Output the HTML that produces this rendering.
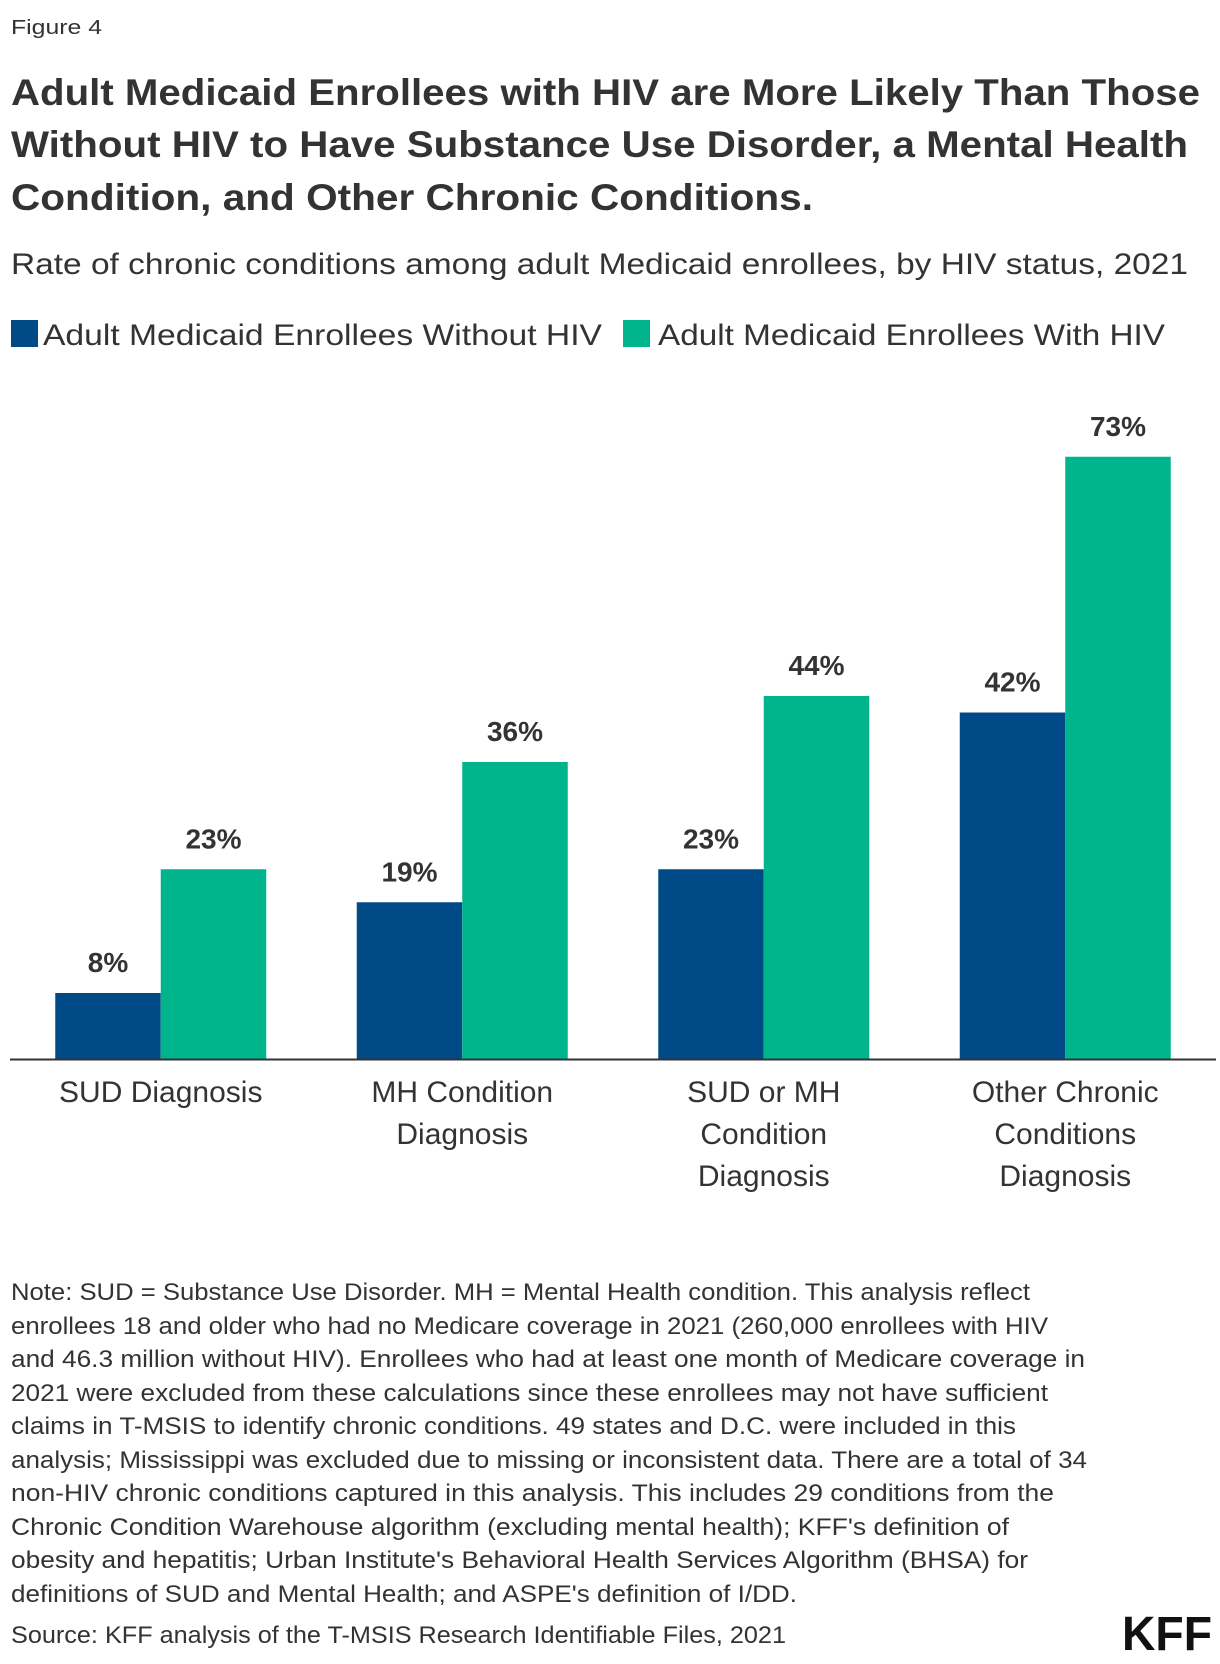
<!DOCTYPE html>
<html><head><meta charset="utf-8"><style>
html,body{margin:0;padding:0;background:#fff;}
svg{display:block;font-family:"Liberation Sans",sans-serif;}
</style></head><body>
<svg id="chart" width="1220" height="1664" viewBox="0 0 1220 1664">
<text x="11" y="34" font-size="20" fill="#333" textLength="91" lengthAdjust="spacingAndGlyphs">Figure 4</text>
<g font-weight="bold" font-size="37" fill="#333">
<text x="11" y="105" textLength="1189" lengthAdjust="spacingAndGlyphs">Adult Medicaid Enrollees with HIV are More Likely Than Those</text>
<text x="11" y="157" textLength="1177" lengthAdjust="spacingAndGlyphs">Without HIV to Have Substance Use Disorder, a Mental Health</text>
<text x="11" y="210" textLength="802" lengthAdjust="spacingAndGlyphs">Condition, and Other Chronic Conditions.</text>
</g>
<text x="11" y="274" font-size="30" fill="#333" textLength="1177" lengthAdjust="spacingAndGlyphs">Rate of chronic conditions among adult Medicaid enrollees, by HIV status, 2021</text>
<g>
<rect x="11" y="320" width="27" height="27" fill="#004A87"/>
<text x="43" y="345" font-size="30" fill="#333" textLength="559" lengthAdjust="spacingAndGlyphs">Adult Medicaid Enrollees Without HIV</text>
<rect x="623" y="320" width="27" height="27" fill="#00B58B"/>
<text x="658" y="345" font-size="30" fill="#333" textLength="507" lengthAdjust="spacingAndGlyphs">Adult Medicaid Enrollees With HIV</text>
</g>
<g id="plot"></g>
<g font-size="24" fill="#333">
<text x="11" y="1300" textLength="1019" lengthAdjust="spacingAndGlyphs">Note: SUD = Substance Use Disorder. MH = Mental Health condition. This analysis reflect</text>
<text x="11" y="1334" textLength="1037" lengthAdjust="spacingAndGlyphs">enrollees 18 and older who had no Medicare coverage in 2021 (260,000 enrollees with HIV</text>
<text x="11" y="1367" textLength="1074" lengthAdjust="spacingAndGlyphs">and 46.3 million without HIV). Enrollees who had at least one month of Medicare coverage in</text>
<text x="11" y="1401" textLength="1037" lengthAdjust="spacingAndGlyphs">2021 were excluded from these calculations since these enrollees may not have sufficient</text>
<text x="11" y="1434" textLength="1005" lengthAdjust="spacingAndGlyphs">claims in T-MSIS to identify chronic conditions. 49 states and D.C. were included in this</text>
<text x="11" y="1468" textLength="1076" lengthAdjust="spacingAndGlyphs">analysis; Mississippi was excluded due to missing or inconsistent data. There are a total of 34</text>
<text x="11" y="1501" textLength="1043" lengthAdjust="spacingAndGlyphs">non-HIV chronic conditions captured in this analysis. This includes 29 conditions from the</text>
<text x="11" y="1535" textLength="998" lengthAdjust="spacingAndGlyphs">Chronic Condition Warehouse algorithm (excluding mental health); KFF's definition of</text>
<text x="11" y="1568" textLength="1017" lengthAdjust="spacingAndGlyphs">obesity and hepatitis; Urban Institute's Behavioral Health Services Algorithm (BHSA) for</text>
<text x="11" y="1602" textLength="786" lengthAdjust="spacingAndGlyphs">definitions of SUD and Mental Health; and ASPE's definition of I/DD.</text>
</g>
<text x="11" y="1643" font-size="24" fill="#333" textLength="775" lengthAdjust="spacingAndGlyphs">Source: KFF analysis of the T-MSIS Research Identifiable Files, 2021</text>
<text x="1122" y="1650" font-size="48" font-weight="bold" fill="#111" textLength="90" lengthAdjust="spacingAndGlyphs">KFF</text>
</svg>
<script>
const categories = [["SUD Diagnosis"],["MH Condition","Diagnosis"],["SUD or MH","Condition","Diagnosis"],["Other Chronic","Conditions","Diagnosis"]];
const withoutHIV = [8, 19, 23, 42];
const withHIV = [23, 36, 44, 73];
const valueLabelsWithout = ["8%","19%","23%","42%"];
const valueLabelsWith = ["23%","36%","44%","73%"];

const NS = "http://www.w3.org/2000/svg";
const plot = document.getElementById("plot");
const left = 10, right = 1216, baseY = 1059, pxPer = 8.25;
const band = (right - left) / categories.length;
const barW = 105.5;
function xCenter(i){ return left + band * (i + 0.5); }
function yScale(v){ return baseY - v * pxPer; }
function mk(tag, attrs){ const e = document.createElementNS(NS, tag); for (const k in attrs) e.setAttribute(k, attrs[k]); plot.appendChild(e); return e; }

const series = [
  {vals: withoutHIV, labels: valueLabelsWithout, color: "#004A87", off: -1, key: "without-hiv"},
  {vals: withHIV, labels: valueLabelsWith, color: "#00B58B", off: 0, key: "with-hiv"}
];
categories.forEach((cat, i) => {
  series.forEach(s => {
    const x = xCenter(i) + s.off * barW;
    const y = yScale(s.vals[i]);
    const r = mk("rect", {x: x, y: y, width: barW, height: baseY - y, fill: s.color});
    
    
    const t = mk("text", {x: x + barW/2, y: y - 21, "font-size": 28, "font-weight": "bold", fill: "#333", "text-anchor": "middle"});
    t.textContent = s.labels[i];
    
    
  });
  cat.forEach((line, j) => {
    const t = mk("text", {x: xCenter(i), y: 1102 + j * 42, "font-size": 30, fill: "#333", "text-anchor": "middle"});
    t.textContent = line;
    
    
  });
});
const ax = mk("line", {x1: left, x2: right, y1: baseY + 0.5, y2: baseY + 0.5, stroke: "#333", "stroke-width": 2});


</script>
</body></html>
